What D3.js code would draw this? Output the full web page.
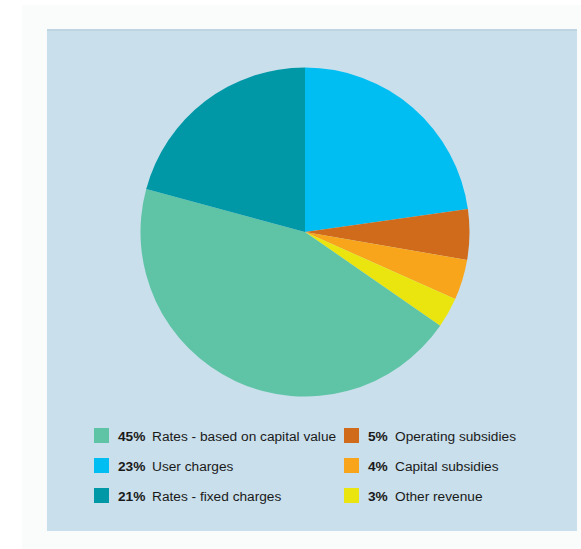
<!DOCTYPE html>
<html>
<head>
<meta charset="utf-8">
<script src="https://cdn.jsdelivr.net/npm/d3@7/dist/d3.min.js"></script>
<style>
  html, body { margin: 0; padding: 0; background: #ffffff; }
  svg { display: block; }
  text { font-family: "Liberation Sans", Arial, Helvetica, sans-serif; fill: #1a1a1a; }
</style>
</head>
<body>
<svg id="chart" width="581" height="549"></svg>
<script>
// Revenue sources (percent of total), clockwise from 12 o'clock
const categories = [
  "User charges",
  "Operating subsidies",
  "Capital subsidies",
  "Other revenue",
  "Rates - based on capital value",
  "Rates - fixed charges"
];
const values = [23, 5, 4, 3, 45, 21];
const colors = ["#00bef2", "#d06b1c", "#f8a51b", "#ebe50f", "#5fc4a6", "#0097a7"];

// Legend layout order: left column then right column
const legendLeft = ["Rates - based on capital value", "User charges", "Rates - fixed charges"];
const legendRight = ["Operating subsidies", "Capital subsidies", "Other revenue"];

const svg = d3.select("#chart");

// faint outer frame and blue panel
svg.append("rect").attr("x", 22).attr("y", 5).attr("width", 559).attr("height", 544).attr("fill", "#fafbfb");
svg.append("rect").attr("x", 47).attr("y", 29).attr("width", 530).attr("height", 502).attr("fill", "#c9dfeb");
svg.append("rect").attr("x", 47).attr("y", 29).attr("width", 530).attr("height", 2).attr("fill", "#bed5e1");

const color = d3.scaleOrdinal().domain(categories).range(colors);
const data = categories.map((c, i) => ({ name: c, value: values[i] }));

const pie = d3.pie().value(d => d.value).sort(null);
const arc = d3.arc().innerRadius(0).outerRadius(164.5);

svg.append("g")
  .attr("transform", "translate(305,232)")
  .selectAll("path")
  .data(pie(data))
  .join("path")
  .attr("d", arc)
  .attr("fill", d => color(d.data.name));

function legendColumn(names, x, y0) {
  const g = svg.append("g");
  names.forEach((n, i) => {
    const v = values[categories.indexOf(n)];
    const y = y0 + i * 30;
    g.append("rect").attr("x", x).attr("y", y).attr("width", 15).attr("height", 15).attr("fill", color(n));
    g.append("text").attr("x", x + 24).attr("y", y + 12.5)
      .attr("font-size", 13.7).attr("font-weight", "bold").text(v + "%");
    g.append("text").attr("x", x + (v >= 10 ? 58 : 51)).attr("y", y + 12.5)
      .attr("font-size", 13.7).text(n);
  });
}
legendColumn(legendLeft, 94, 428);
legendColumn(legendRight, 344, 428);
</script>
</body>
</html>
